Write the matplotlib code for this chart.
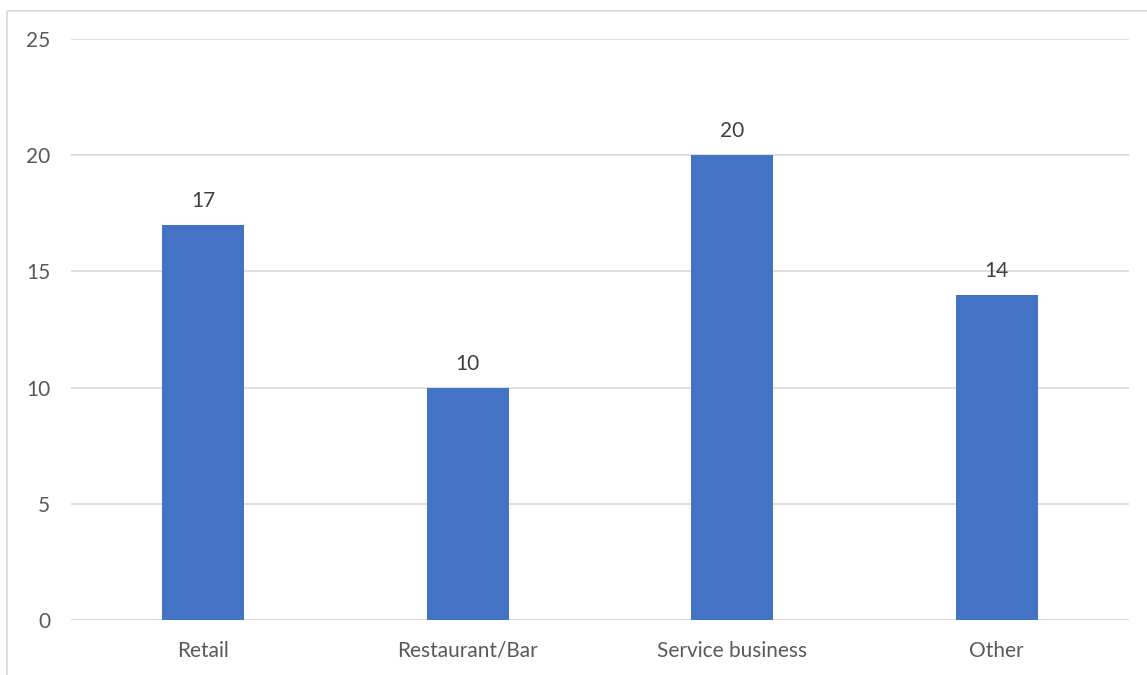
import matplotlib.pyplot as plt
from matplotlib.lines import Line2D

categories = ['Retail', 'Restaurant/Bar', 'Service business', 'Other']
values = [17, 10, 20, 14]
y_ticks = [0, 5, 10, 15, 20, 25]

W, H = 1147, 675
fig = plt.figure(figsize=(W / 100, H / 100), dpi=100)
plt.rcParams['font.family'] = ['Lato', 'DejaVu Sans']

ax = fig.add_axes([71 / W, (H - 620) / H, (1129 - 71) / W, (620 - 39) / H])

x = range(len(categories))
bars = ax.bar(x, values, width=0.31, color='#4472C4', zorder=3)
for b, v in zip(bars, values):
    ax.text(b.get_x() + b.get_width() / 2, v + 0.6, str(v), ha='center', va='bottom',
            fontsize=15, color='#404040')

ax.set_xlim(-0.5, len(categories) - 0.5)
ax.set_ylim(0, 25)
ax.set_yticks(y_ticks)
ax.set_xticks(list(x))
ax.set_xticklabels(categories)
ax.grid(axis='y', color='#D9D9D9', linewidth=1.2, zorder=0)
ax.tick_params(axis='both', length=0, labelsize=15, labelcolor='#595959')
ax.tick_params(axis='y', pad=15)
ax.tick_params(axis='x', pad=15)
for s in ax.spines.values():
    s.set_visible(False)
ax.axhline(0, color='#D9D9D9', linewidth=1.5, zorder=2)

# chart frame (partly cut off at right and bottom)
fig.add_artist(Line2D([7.5 / W, 7.5 / W, 1.0], [0.0, (H - 10.5) / H, (H - 10.5) / H],
                      transform=fig.transFigure, color='#D9D9D9', linewidth=1.2))

fig.savefig('out.png', dpi=100)
